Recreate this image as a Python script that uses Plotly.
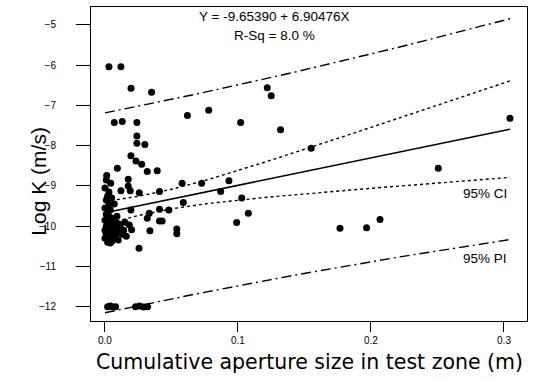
import numpy as np
import plotly.graph_objects as go

# ---- data ----
aperture = [0.003,0.012,0.0196,0.035,0.007,0.013,0.024,0.024,0.062,0.078,0.102,0.122,0.125,0.132,
            0.3045,0.155,0.2506,0.1767,0.1967,0.2068,0.024,0.030,0.0195,0.0233,0.0276,0.0318,0.0393,
            0.0093,0.0013,0.0043,0.0175,0.012,0.0175,0.019,0.0258,0.041,0.058,0.0727,0.0932,0.087,
            0.1028,0.1078,0.099,0.0589,0.041,0.048,0.0333,0.0318,0.041,0.043,0.0338,0.054,0.054,
            0.0256,0.0195,0.020,0.0183,0.0118,0.010,
            0.002,0.004,0.006,0.008,0.023,0.026,0.029,0.032,
            0.000,0.002,0.001,0.003,0.000,0.004,0.001,0.003,0.006,0.000,0.002,0.005,0.008,0.001,
            0.004,0.007,0.000,0.003,0.006,0.009,0.001,0.004,0.008,0.000,0.003,0.006,0.002,0.005,
            0.001,0.003,0.011,0.013,0.015,0.014,0.016,0.009,0.007,0.005,
            0.002,0.005,0.001,0.007,0.004]
logk = [-6.04,-6.04,-6.57,-6.67,-7.42,-7.40,-7.42,-7.76,-7.25,-7.12,-7.42,-6.56,-6.76,-7.60,
        -7.32,-8.06,-8.56,-10.05,-10.04,-9.83,-7.94,-7.97,-8.25,-8.38,-8.46,-8.64,-8.62,
        -8.56,-8.74,-8.93,-8.83,-9.12,-9.00,-9.12,-9.17,-9.14,-8.93,-8.93,-8.87,-9.14,
        -9.30,-9.68,-9.91,-9.41,-9.58,-9.60,-9.68,-9.80,-9.87,-9.87,-10.11,-10.07,-10.19,
        -10.55,-9.60,-10.09,-9.97,-10.05,-10.34,
        -12.0,-11.98,-12.01,-12.0,-12.0,-11.98,-12.01,-12.0,
        -9.05,-9.25,-9.35,-9.45,-9.55,-9.60,-9.70,-9.75,-9.80,-9.85,-9.90,-9.95,-9.90,-10.0,
        -10.05,-10.05,-10.1,-10.15,-10.12,-10.1,-10.2,-10.25,-10.22,-10.3,-10.35,-10.33,-10.4,-10.38,
        -8.85,-9.15,-9.95,-10.2,-9.9,-10.1,-10.25,-9.75,-9.45,-9.3,
        -10.28,-10.36,-10.18,-10.3,-10.42]
x_ticks = [0.0, 0.1, 0.2, 0.3]
y_ticks = [-5, -6, -7, -8, -9, -10, -11, -12]
equation_text = "Y = -9.65390 + 6.90476X"
rsq_text = "R-Sq = 8.0 %"
x_title = "Cumulative aperture size in test zone (m)"
y_title = "Log K (m/s)"

# ---- regression with confidence / prediction bands ----
x = np.array(aperture); y = np.array(logk)
n = len(x)
b1, b0 = np.polyfit(x, y, 1)
resid = y - (b0 + b1 * x)
s = np.sqrt(np.sum(resid ** 2) / (n - 2))
xbar = x.mean(); sxx = np.sum((x - xbar) ** 2)
t = 1.98
xf = np.linspace(x.min(), x.max(), 100)
yf = b0 + b1 * xf
ci = t * s * np.sqrt(1 / n + (xf - xbar) ** 2 / sxx)
pi = t * s * np.sqrt(1 + 1 / n + (xf - xbar) ** 2 / sxx)

font = "Liberation Sans, Arial, sans-serif"
fig = go.Figure()
fig.add_trace(go.Scatter(x=x, y=y, mode="markers",
                         marker=dict(color="black", size=7), showlegend=False))
fig.add_trace(go.Scatter(x=xf, y=yf, mode="lines", line=dict(color="black", width=1.6), showlegend=False))
for band, dash in ((ci, "dot"), (pi, "10px,4px,2px,4px")):
    for sign in (1, -1):
        fig.add_trace(go.Scatter(x=xf, y=yf + sign * band, mode="lines",
                                 line=dict(color="black", width=1.4, dash=dash), showlegend=False))

fig.add_annotation(x=0.422, xref="paper", y=-4.79, text=equation_text, showarrow=False,
                   font=dict(family=font, size=13.5, color="black"))
fig.add_annotation(x=0.422, xref="paper", y=-5.25, text=rsq_text, showarrow=False,
                   font=dict(family=font, size=13.5, color="black"))
fig.add_annotation(x=0.2857, y=float(yf[-1] - ci[-1]) - 0.4, text="95% CI", showarrow=False,
                   font=dict(family=font, size=13.5, color="black"))
fig.add_annotation(x=0.2857, y=float(yf[-1] - pi[-1]) - 0.48, text="95% PI", showarrow=False,
                   font=dict(family=font, size=13.5, color="black"))
# axis titles
fig.add_annotation(x=-0.151, xref="paper", y=-8.876, text=y_title, textangle=-90,
                   showarrow=False, font=dict(family=font, size=21, color="black"))
fig.add_annotation(x=0.5, xref="paper", y=-0.1290, yref="paper", yanchor="middle", text=x_title,
                   showarrow=False, font=dict(family="DejaVu Sans, sans-serif", size=20.5, color="black"))

fig.update_layout(
    width=534, height=381, margin=dict(l=91, r=7, t=7, b=60),
    paper_bgcolor="white", plot_bgcolor="white",
    font=dict(family=font, color="black"),
    xaxis=dict(range=[-0.0105, 0.3173], tickvals=x_ticks, ticktext=[f"{v:.1f}" for v in x_ticks],
               ticks="outside", ticklen=10, tickcolor="black", showline=True, linecolor="black",
               mirror=True, showgrid=False, zeroline=False, tickfont=dict(size=10),
               ticklabelstandoff=0),
    yaxis=dict(range=[-12.355, -4.553], tickvals=y_ticks, ticks="outside", ticklen=14, tickcolor="black",
               showline=True, linecolor="black", mirror=True, showgrid=False, zeroline=False,
               tickfont=dict(size=10), ticklabelstandoff=18),
)
fig.write_html("out.html")
